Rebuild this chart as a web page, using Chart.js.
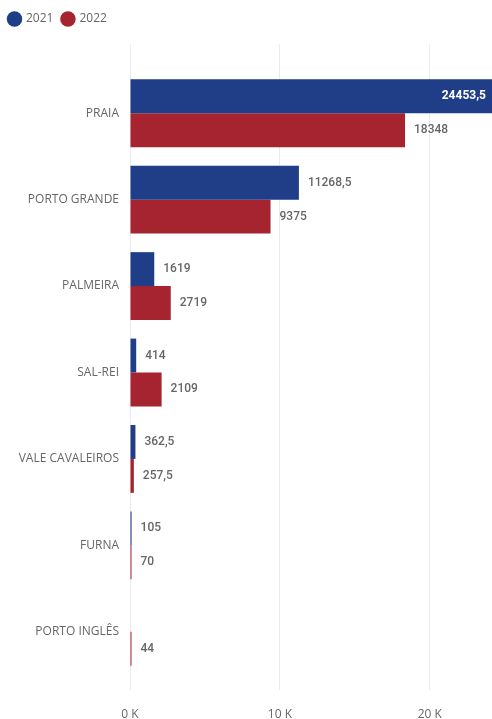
<!DOCTYPE html>
<html lang="pt">
<head>
    <meta charset="UTF-8">
    <title>Ilhas 2021 / 2022</title>
    <script src="https://cdn.jsdelivr.net/npm/chart.js"></script>
    <style>
        body { margin: 0; background: #fff; }
        .chart-box { width: 492px; height: 719px; }
    </style>
</head>
<body>
    <div class="chart-box">
        <canvas id="barChart"></canvas>
    </div>
    <script>
        // Dados do gráfico
        const categorias = ['PRAIA', 'PORTO GRANDE', 'PALMEIRA', 'SAL-REI', 'VALE CAVALEIROS', 'FURNA', 'PORTO INGLÊS'];
        const valores2021 = [24453.5, 11268.5, 1619, 414, 362.5, 105, null];
        const valores2022 = [18348, 9375, 2719, 2109, 257.5, 70, 44];
        const series = ['2021', '2022'];
        const tickValores = [0, 10000, 20000];

        const azul = '#1f3e87';
        const vermelho = '#a6242f';
        const cinza = '#666666';

        function formatar(v) {
            return String(v).replace('.', ',');
        }

        // Rótulos de dados ao lado das barras
        const rotulos = {
            id: 'rotulos',
            afterDatasetsDraw(chart) {
                const { ctx, chartArea } = chart;
                ctx.save();
                ctx.textBaseline = 'middle';
                chart.data.datasets.forEach((ds, i) => {
                    const meta = chart.getDatasetMeta(i);
                    meta.data.forEach((bar, j) => {
                        const v = ds.data[j];
                        if (v === null || v === undefined) return;
                        const txt = formatar(v);
                        ctx.font = '500 12px Roboto';
                        const w = ctx.measureText(txt).width;
                        if (bar.x + 9 + w > chartArea.right) {
                            ctx.font = 'bold 12px Roboto';
                            ctx.fillStyle = '#ffffff';
                            ctx.textAlign = 'right';
                            ctx.fillText(txt, Math.min(bar.x, chartArea.right) - 6, bar.y);
                        } else {
                            ctx.fillStyle = cinza;
                            ctx.textAlign = 'left';
                            ctx.fillText(txt, bar.x + 9, bar.y);
                        }
                    });
                });
                ctx.restore();
            }
        };

        const eixoX = {
            type: 'linear',
            min: 0,
            max: 24150,
            afterBuildTicks: (scale) => { scale.ticks = tickValores.map(v => ({ value: v })); }
        };

        const ctx = document.getElementById('barChart').getContext('2d');
        new Chart(ctx, {
            type: 'bar',
            data: {
                labels: categorias,
                datasets: [
                    { label: series[0], data: valores2021, backgroundColor: azul, xAxisID: 'x' },
                    { label: series[1], data: valores2022, backgroundColor: vermelho, xAxisID: 'x' }
                ]
            },
            options: {
                indexAxis: 'y',
                responsive: true,
                maintainAspectRatio: false,
                animation: false,
                layout: { padding: { top: 4, left: 0, right: 0, bottom: 0 } },
                datasets: {
                    bar: { categoryPercentage: 0.785, barPercentage: 1, minBarLength: 1.5 }
                },
                scales: {
                    x: {
                        ...eixoX,
                        position: 'bottom',
                        border: { display: false },
                        grid: { color: '#ebebeb', tickLength: 15 },
                        afterFit: (scale) => { scale.height = 44; },
                        ticks: {
                            padding: 17,
                            color: cinza,
                            font: { family: 'Open Sans', size: 12 },
                            callback: (v) => (v / 1000) + ' K'
                        }
                    },
                    xTopo: {
                        ...eixoX,
                        position: 'top',
                        border: { display: false },
                        grid: { color: '#ebebeb', tickLength: 26, drawOnChartArea: false },
                        afterFit: (scale) => { scale.height = 35; },
                        ticks: { display: false }
                    },
                    y: {
                        border: { display: false },
                        grid: { display: false, drawTicks: false },
                        afterFit: (scale) => { scale.width = 130; },
                        ticks: {
                            padding: 11,
                            color: cinza,
                            font: { family: 'Open Sans', size: 12 }
                        }
                    }
                },
                plugins: {
                    legend: {
                        position: 'top',
                        align: 'start',
                        labels: {
                            usePointStyle: true,
                            pointStyle: 'circle',
                            boxWidth: 11,
                            boxHeight: 11,
                            padding: 9,
                            color: cinza,
                            font: { family: 'Open Sans', size: 12 }
                        }
                    },
                    tooltip: { enabled: false }
                }
            },
            plugins: [rotulos]
        });
    </script>
</body>
</html>
